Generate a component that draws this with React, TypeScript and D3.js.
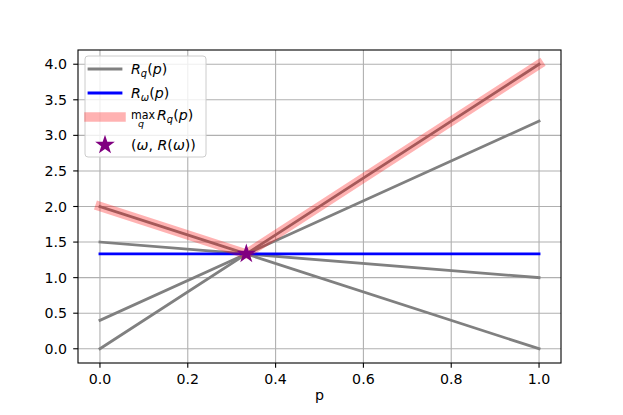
import * as d3 from "d3";

// values of the q-lines at p = 0 and p = 1
const P_ENDS = [0, 1];
const Q_AT_0 = [2.0, 1.5, 0.4, 0.0];
const Q_AT_1 = [0.0, 1.0, 3.2, 4.0];

// upper envelope max_q R_q(p)
const MAX_P = [0, 1 / 3, 1];
const MAX_R = [2.0, 4 / 3, 4.0];

// R_omega(p) (flat)
const OMEGA_R = [4 / 3, 4 / 3];

const OMEGA = 1 / 3;
const R_OMEGA = 4 / 3;

const X_TICKS = [0, 0.2, 0.4, 0.6, 0.8, 1.0];
const Y_TICKS = [0, 0.5, 1, 1.5, 2, 2.5, 3, 3.5, 4];

const W = 623;
const H = 415;
const M = { left: 78, right: 561, top: 50, bottom: 363 };
const FONT = "DejaVu Sans";
const FS = 14.2;

const GRAY = "#808080";
const BLUE = "#0000ff";
const PURPLE = "#800080";

export default function App() {
  const x = d3.scaleLinear().domain([-0.05, 1.05]).range([M.left, M.right]);
  const y = d3.scaleLinear().domain([-0.2, 4.2]).range([M.bottom, M.top]);

  const line = d3
    .line<[number, number]>()
    .x((d) => x(d[0]))
    .y((d) => y(d[1]));

  const star = d3.symbol().type(d3.symbolStar).size(120)();

  const legendX = 85;
  const legendY = 56;
  const rows = [69, 93, 117, 145];
  const hx0 = 89;
  const hx1 = 121;
  const tx = 131;

  return (
    <svg
      width={W}
      height={H}
      style={{ position: "absolute", left: 0, top: 0, background: "white" }}
      fontFamily={FONT}
    >
      <rect x={0} y={0} width={W} height={H} fill="white" />

      {/* grid */}
      <g stroke="#b0b0b0" strokeWidth={1.1}>
        {X_TICKS.map((t) => (
          <line key={"gx" + t} x1={x(t)} x2={x(t)} y1={M.top} y2={M.bottom} />
        ))}
        {Y_TICKS.map((t) => (
          <line key={"gy" + t} x1={M.left} x2={M.right} y1={y(t)} y2={y(t)} />
        ))}
      </g>

      {/* lines */}
      <g fill="none" strokeLinecap="square" strokeLinejoin="round">
        {Q_AT_0.map((v, i) => (
          <path
            key={"q" + i}
            d={line([
              [P_ENDS[0], v],
              [P_ENDS[1], Q_AT_1[i]],
            ]) as string}
            stroke={GRAY}
            strokeWidth={2.8}
          />
        ))}
        <path
          d={line(P_ENDS.map((p, i) => [p, OMEGA_R[i]]) as [number, number][]) as string}
          stroke={BLUE}
          strokeWidth={2.8}
        />
        <path
          d={line(MAX_P.map((p, i) => [p, MAX_R[i]]) as [number, number][]) as string}
          stroke="red"
          strokeOpacity={0.3}
          strokeWidth={9.5}
        />
      </g>
      <path d={star as string} transform={`translate(${x(OMEGA)},${y(R_OMEGA)})`} fill={PURPLE} />

      {/* spines */}
      <rect
        x={M.left}
        y={M.top}
        width={M.right - M.left}
        height={M.bottom - M.top}
        fill="none"
        stroke="black"
        strokeWidth={1.1}
      />

      {/* ticks */}
      <g stroke="black" strokeWidth={1.1}>
        {X_TICKS.map((t) => (
          <line key={"tx" + t} x1={x(t)} x2={x(t)} y1={M.bottom} y2={M.bottom + 4.8} />
        ))}
        {Y_TICKS.map((t) => (
          <line key={"ty" + t} x1={M.left - 4.8} x2={M.left} y1={y(t)} y2={y(t)} />
        ))}
      </g>
      <g fontSize={FS} fill="black">
        {X_TICKS.map((t) => (
          <text key={"lx" + t} x={x(t)} y={M.bottom + 20.5} textAnchor="middle">
            {d3.format(".1f")(t)}
          </text>
        ))}
        {Y_TICKS.map((t) => (
          <text key={"ly" + t} x={M.left - 11} y={y(t) + 5} textAnchor="end">
            {d3.format(".1f")(t)}
          </text>
        ))}
        <text x={(M.left + M.right) / 2} y={400} textAnchor="middle">
          p
        </text>
      </g>

      {/* legend */}
      <rect
        x={legendX}
        y={legendY}
        width={121}
        height={101}
        rx={3}
        fill="white"
        fillOpacity={0.8}
        stroke="#cccccc"
        strokeWidth={1}
      />
      <g strokeLinecap="square">
        <line x1={hx0} x2={hx1} y1={rows[0]} y2={rows[0]} stroke={GRAY} strokeWidth={2.8} />
        <line x1={hx0} x2={hx1} y1={rows[1]} y2={rows[1]} stroke={BLUE} strokeWidth={2.8} />
        <line
          x1={hx0}
          x2={hx1}
          y1={rows[2]}
          y2={rows[2]}
          stroke="red"
          strokeOpacity={0.3}
          strokeWidth={9.5}
        />
      </g>
      <path d={star as string} transform={`translate(${(hx0 + hx1) / 2},${rows[3]})`} fill={PURPLE} />

      <g fontSize={FS} fill="black">
        <text x={tx} y={rows[0] + 5}>
          <tspan fontStyle="italic">R</tspan>
          <tspan fontStyle="italic" fontSize={FS * 0.7} dy={3}>q</tspan>
          <tspan dy={-3}>(</tspan>
          <tspan fontStyle="italic">p</tspan>
          <tspan>)</tspan>
        </text>
        <text x={tx} y={rows[1] + 5}>
          <tspan fontStyle="italic">R</tspan>
          <tspan fontStyle="italic" fontSize={FS * 0.7} dy={3}>ω</tspan>
          <tspan dy={-3}>(</tspan>
          <tspan fontStyle="italic">p</tspan>
          <tspan>)</tspan>
        </text>
        <text x={tx} y={rows[2] + 2} fontSize={13} textLength={24} lengthAdjust="spacingAndGlyphs">
          max
        </text>
        <text x={tx + 10} y={rows[2] + 10} fontSize={9.5} fontStyle="italic" textAnchor="middle">
          q
        </text>
        <text x={tx + 26} y={rows[2] + 3}>
          <tspan fontStyle="italic">R</tspan>
          <tspan fontStyle="italic" fontSize={FS * 0.7} dy={3}>q</tspan>
          <tspan dy={-3}>(</tspan>
          <tspan fontStyle="italic">p</tspan>
          <tspan>)</tspan>
        </text>
        <text x={tx} y={rows[3] + 5}>
          <tspan>(</tspan>
          <tspan fontStyle="italic">ω</tspan>
          <tspan>, </tspan>
          <tspan fontStyle="italic">R</tspan>
          <tspan>(</tspan>
          <tspan fontStyle="italic">ω</tspan>
          <tspan>))</tspan>
        </text>
      </g>
    </svg>
  );
}
